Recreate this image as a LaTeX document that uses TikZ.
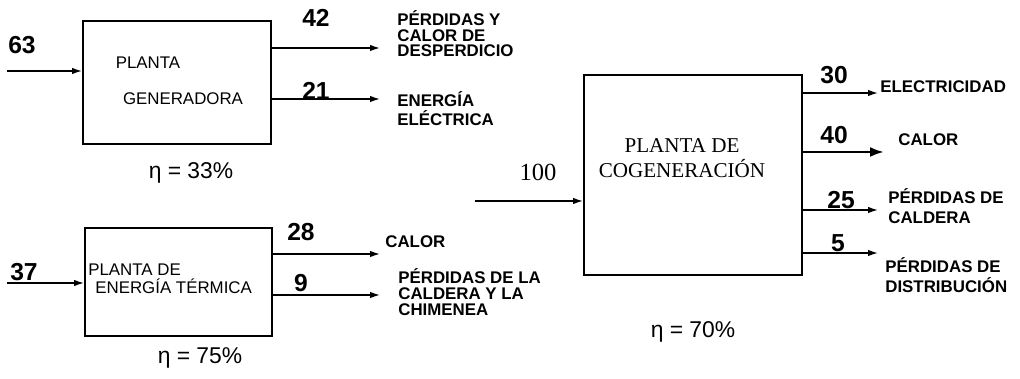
\documentclass[tikz,border=0pt]{standalone}
\usepackage{fontspec}
\setmainfont{Liberation Serif}
\setsansfont{Liberation Sans}
\usetikzlibrary{arrows.meta}

\begin{document}
\begin{tikzpicture}[x=0.2mm, y=-0.2mm,
  plantbox/.style={draw, line width=1.1pt, inner sep=0pt},
  flowline/.style={-{Latex[length=2mm,width=1.3mm]}, line width=0.8pt},
  heavyline/.style={-{Latex[length=2.8mm,width=2mm]}, line width=1.4pt},
  flowlabel/.style={inner sep=0pt, anchor=west, align=left,
    font=\sffamily\bfseries\fontsize{9.6}{8.8}\selectfont},
  flowvalue/.style={inner sep=0pt, font=\sffamily\bfseries\fontsize{14}{14}\selectfont},
  boxtext/.style={inner sep=0pt, font=\sffamily\fontsize{9.6}{9}\selectfont},
  efficiency/.style={inner sep=0pt, font=\sffamily\fontsize{13}{13}\selectfont}
]
\useasboundingbox (0,0) rectangle (1020,379);
\node[plantbox, minimum width=37.6mm, minimum height=24.6mm] (gen) at (177,82.5) {};
\node[plantbox, minimum width=37.4mm, minimum height=21.6mm] (term) at (178.5,282) {};
\node[plantbox, minimum width=43.6mm, minimum height=40mm] (cog) at (693,175) {};
\node[boxtext] (gen-t1) at (148,63) {PLANTA};
\node[boxtext] (gen-t2) at (183,99) {GENERADORA};
\node[boxtext, anchor=west] (term-t1) at (88,270) {PLANTA DE};
\node[boxtext, anchor=west] (term-t2) at (95,286) {ENERGÍA TÉRMICA};
\node[inner sep=0pt, align=center, font=\rmfamily\fontsize{12}{14}\selectfont] (cog-t) at (682,158) {PLANTA DE\\COGENERACIÓN};
\coordinate (gen-in) at (7,71);
\coordinate (gen-out1) at (380,48);
\coordinate (gen-out2) at (380,99);
\coordinate (term-in) at (7,283);
\coordinate (term-out1) at (380,254);
\coordinate (term-out2) at (380,295);
\coordinate (cog-in) at (475,201);
\coordinate (cog-out1) at (878,93);
\coordinate (cog-out2) at (884,152);
\coordinate (cog-out3) at (878,210);
\coordinate (cog-out4) at (878,253);
\foreach \a/\b in {gen-in/gen,term-in/term,cog-in/cog}
  \draw[flowline] (\a) -- (\b.west |- \a);
\foreach \a/\b in {gen/gen-out1,gen/gen-out2,term/term-out1,term/term-out2,cog/cog-out1,cog/cog-out3,cog/cog-out4}
  \draw[flowline] (\a.east |- \b) -- (\b);
\draw[heavyline] (cog.east |- cog-out2) -- (cog-out2);
\node[flowvalue] (v63) at (22,45) {63};
\node[flowvalue] (v42) at (316,18) {42};
\node[flowvalue] (v21) at (316,91) {21};
\node[flowvalue] (v37) at (24,272) {37};
\node[flowvalue] (v28) at (301,232) {28};
\node[flowvalue] (v9) at (301,283) {9};
\node[inner sep=0pt, font=\rmfamily\fontsize{14}{14}\selectfont] (v100) at (538,172) {100};
\node[flowvalue] (v30) at (834,75) {30};
\node[flowvalue] (v40) at (834,135) {40};
\node[flowvalue] (v25) at (841,200) {25};
\node[flowvalue] (v5) at (838,243) {5};
\node[flowlabel] (l-waste) at (397,34) {PÉRDIDAS Y\\CALOR DE\\DESPERDICIO};
\node[flowlabel, font=\sffamily\bfseries\fontsize{9.6}{10.4}\selectfont] (l-elec) at (397,108.5) {ENERGÍA\\ELÉCTRICA};
\node[flowlabel] (l-heat) at (385,242) {CALOR};
\node[flowlabel, font=\sffamily\bfseries\fontsize{9.6}{9}\selectfont] (l-stack) at (398,292) {PÉRDIDAS DE LA\\CALDERA Y LA\\CHIMENEA};
\node[flowlabel] (l-cogelec) at (880,87) {ELECTRICIDAD};
\node[flowlabel] (l-cogheat) at (898,140) {CALOR};
\node[flowlabel, font=\sffamily\bfseries\fontsize{9.6}{11.5}\selectfont] (l-boiler) at (888,206.5) {PÉRDIDAS DE\\CALDERA};
\node[flowlabel, font=\sffamily\bfseries\fontsize{9.6}{11.5}\selectfont] (l-dist) at (885,275) {PÉRDIDAS DE\\DISTRIBUCIÓN};
\node[efficiency] (eta-gen) at (191,173) {η = 33\%};
\node[efficiency] (eta-term) at (200,358) {η = 75\%};
\node[efficiency] (eta-cog) at (693,332) {η = 70\%};
\end{tikzpicture}
\end{document}
